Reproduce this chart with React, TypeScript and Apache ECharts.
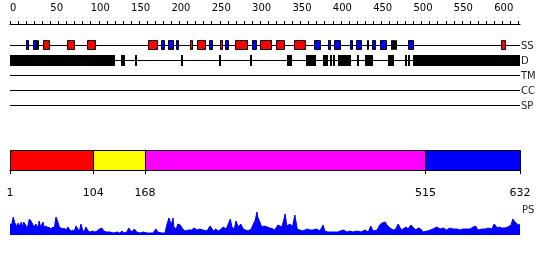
import React, { useEffect, useRef } from 'react';
import * as echarts from 'echarts';

const seqLength = 632;
const rulerLabelStep = 50;
const trackNames = ['SS', 'D', 'TM', 'CC', 'SP'];
const ssHelix = [[33, 36], [41, 50], [71, 80], [95, 107], [171, 184], [223, 227], [232, 243], [260, 264], [279, 295], [310, 325], [330, 341], [352, 367], [475, 477], [609, 615]];
const ssStrand = [[20, 23], [29, 33], [187, 192], [196, 203], [206, 210], [247, 252], [267, 272], [300, 306], [377, 386], [394, 398], [402, 410], [421, 425], [429, 436], [442, 445], [448, 453], [458, 467], [472, 475], [477, 479], [493, 501]];
const disorder = [[0, 130], [138, 143], [155, 157], [212, 214], [259, 261], [297, 299], [343, 349], [367, 379], [388, 394], [397, 399], [400, 402], [406, 422], [430, 433], [440, 450], [468, 476], [489, 491], [493, 495], [499, 632]];
const domainStarts = [1, 104, 168, 515];
const domainEnds = [104, 168, 515, 632];
const domainTicks = [1, 104, 168, 515, 632];
const psPos = [0, 2, 4, 6, 9, 10, 12, 14, 16, 17, 20, 21, 24, 26, 28, 30, 32, 35, 36, 38, 41, 42, 45, 47, 48, 51, 53, 55, 57, 59, 61, 63, 66, 67, 69, 72, 73, 76, 78, 79, 82, 84, 86, 88, 90, 92, 94, 97, 99, 103, 105, 108, 111, 114, 116, 120, 124, 128, 133, 136, 139, 140, 145, 147, 151, 154, 157, 161, 165, 170, 173, 177, 181, 183, 188, 192, 195, 197, 200, 202, 203, 206, 208, 211, 214, 217, 221, 225, 228, 232, 235, 239, 244, 248, 252, 255, 258, 262, 264, 268, 270, 273, 275, 278, 280, 283, 286, 289, 292, 295, 299, 301, 304, 306, 307, 310, 312, 315, 319, 322, 326, 328, 332, 337, 341, 343, 347, 350, 353, 356, 359, 363, 368, 372, 375, 380, 384, 388, 390, 394, 400, 406, 413, 418, 421, 425, 430, 435, 440, 444, 447, 450, 455, 458, 461, 465, 467, 471, 475, 478, 481, 485, 487, 491, 493, 497, 499, 503, 506, 509, 512, 517, 521, 524, 529, 533, 537, 541, 545, 549, 554, 558, 561, 566, 570, 574, 577, 580, 585, 589, 592, 597, 600, 604, 606, 610, 613, 617, 621, 623, 626, 630, 632];
const psVal = [11, 10, 18, 12, 8, 12, 9, 13, 8, 13, 9, 5, 16, 14, 11, 8, 11, 7, 14, 8, 13, 8, 9, 7, 8, 6, 8, 7, 18, 14, 8, 7, 6, 7, 5, 8, 6, 4, 5, 3, 9, 6, 4, 11, 5, 3, 8, 4, 3, 4, 3, 4, 6, 7, 4, 3, 3, 2, 3, 2, 4, 2, 3, 7, 3, 6, 3, 2, 3, 2, 2, 2, 6, 3, 2, 2, 12, 17, 10, 17, 8, 6, 11, 10, 6, 4, 5, 5, 7, 5, 6, 5, 4, 9, 4, 6, 4, 6, 8, 6, 10, 16, 8, 6, 14, 8, 11, 6, 5, 4, 6, 10, 15, 23, 18, 12, 8, 9, 8, 7, 6, 5, 10, 8, 21, 9, 11, 8, 20, 6, 5, 4, 6, 5, 5, 6, 4, 10, 4, 3, 3, 3, 5, 3, 4, 3, 4, 3, 5, 3, 9, 4, 5, 10, 12, 13, 10, 7, 5, 6, 11, 5, 6, 8, 6, 10, 8, 5, 7, 6, 3, 4, 5, 6, 8, 6, 7, 5, 7, 6, 6, 5, 6, 6, 6, 8, 9, 5, 6, 6, 7, 6, 11, 7, 8, 7, 7, 8, 10, 16, 13, 10, 11];

const FONT = 'DejaVu Sans';
const HELIX = '#ff0000';
const STRAND = '#0000ff';
const DOMAIN_COLORS = ['#ff0000', '#ffff00', '#ff00ff', '#0000ff'];

function boxRenderer(fillFor: (i: number) => string, up: number, h: number, stroked: boolean) {
  return (params: any, api: any) => {
    const s = api.value(0);
    const e = api.value(1);
    const row = api.value(2);
    const p0 = api.coord([s, row]);
    const p1 = api.coord([e, row]);
    const x0 = Math.round(p0[0]);
    let x1 = Math.round(p1[0]);
    if (x1 - x0 < 2) x1 = x0 + 2;
    const cy = p0[1];
    if (stroked) {
      return {
        type: 'rect',
        shape: { x: x0 + 0.5, y: cy - up, width: x1 - x0 - 1, height: h },
        style: { fill: fillFor(params.dataIndex), stroke: '#000', lineWidth: 1 },
      };
    }
    return {
      type: 'rect',
      shape: { x: x0, y: cy - up, width: x1 - x0, height: h },
      style: { fill: fillFor(params.dataIndex), stroke: null },
    };
  };
}

export default function App() {
  const ref = useRef<HTMLDivElement>(null);
  useEffect(() => {
    if (!ref.current) return;
    const chart = echarts.init(ref.current, null, { renderer: 'svg' });
    const backbone = trackNames.map((_, i) => [0, seqLength, i]);
    const helixData = ssHelix.map(([s, e]) => [s, e, 0]);
    const strandData = ssStrand.map(([s, e]) => [s, e, 0]);
    const disorderData = disorder.map(([s, e]) => [s, e, 1]);
    const domainData = domainStarts.map((s, i) => [s, domainEnds[i]]);
    const psData = psPos.map((p, i) => [p, psVal[i]]);
    const axisColor = '#000';
    chart.setOption({
      animation: false,
      textStyle: { fontFamily: FONT },
      grid: [
        { left: 10, width: 510, top: 14, height: 10 },
        { left: 10, width: 510, top: 37.5, height: 75 },
        { left: 10, width: 510, top: 150, height: 20 },
        { left: 10, width: 510, top: 212, height: 23 },
      ],
      xAxis: [
        {
          gridIndex: 0, type: 'value', position: 'top', min: 0, max: seqLength, interval: 10,
          axisLine: { lineStyle: { color: axisColor, width: 1 } },
          axisTick: { length: 3, lineStyle: { color: axisColor } },
          axisLabel: {
            formatter: (v: number) => (v % rulerLabelStep === 0 ? String(v) : ''),
            align: 'left', margin: 2, fontSize: 10, color: '#000', fontFamily: FONT, showMaxLabel: false,
          },
          splitLine: { show: false },
        },
        { gridIndex: 1, type: 'value', min: 0, max: seqLength, show: false },
        {
          gridIndex: 2, type: 'value', min: 1, max: seqLength, offset: 10,
          axisLine: { lineStyle: { color: axisColor, width: 1 } },
          axisTick: { customValues: domainTicks, length: 4, lineStyle: { color: axisColor } },
          axisLabel: { customValues: domainTicks, margin: 7, fontSize: 11, color: '#000', fontFamily: FONT },
          splitLine: { show: false },
        },
        { gridIndex: 3, type: 'value', min: 0, max: seqLength, show: false },
      ],
      yAxis: [
        { gridIndex: 0, type: 'value', show: false },
        {
          gridIndex: 1, type: 'category', data: trackNames, inverse: true, position: 'right',
          axisLine: { show: false }, axisTick: { show: false }, splitLine: { show: false },
          axisLabel: { margin: 1, align: 'left', fontSize: 10, color: '#222', fontFamily: FONT },
        },
        { gridIndex: 2, type: 'value', min: 0, max: 1, show: false },
        { gridIndex: 3, type: 'value', min: 0, max: 23, show: false },
      ],
      series: [
        {
          type: 'custom', xAxisIndex: 1, yAxisIndex: 1, data: backbone, encode: { x: [0, 1], y: 2 },
          renderItem: (params: any, api: any) => {
            const p0 = api.coord([api.value(0), api.value(2)]);
            const p1 = api.coord([api.value(1), api.value(2)]);
            const y = Math.round(p0[1]) + 0.5;
            return { type: 'line', shape: { x1: p0[0], y1: y, x2: p1[0], y2: y }, style: { stroke: '#000', lineWidth: 1 } };
          },
        },
        {
          type: 'custom', xAxisIndex: 1, yAxisIndex: 1, data: disorderData, encode: { x: [0, 1], y: 2 },
          renderItem: boxRenderer(() => '#000', 5, 11, false),
        },
        {
          type: 'custom', xAxisIndex: 1, yAxisIndex: 1, data: helixData, encode: { x: [0, 1], y: 2 },
          renderItem: boxRenderer(() => HELIX, 4.5, 9, true),
        },
        {
          type: 'custom', xAxisIndex: 1, yAxisIndex: 1, data: strandData, encode: { x: [0, 1], y: 2 },
          renderItem: boxRenderer(() => STRAND, 4.5, 9, true),
        },
        {
          type: 'custom', xAxisIndex: 2, yAxisIndex: 2, data: domainData, encode: { x: [0, 1] },
          renderItem: (params: any, api: any) => {
            const p0 = api.coord([api.value(0), 1]);
            const p1 = api.coord([api.value(1), 0]);
            const x0 = Math.round(p0[0]);
            const x1 = Math.round(p1[0]);
            return {
              type: 'rect',
              shape: { x: x0 + 0.5, y: Math.round(p0[1]) + 0.5, width: x1 - x0, height: Math.round(p1[1]) - Math.round(p0[1]) },
              style: { fill: DOMAIN_COLORS[params.dataIndex], stroke: '#000', lineWidth: 1 },
            };
          },
        },
        {
          type: 'line', xAxisIndex: 3, yAxisIndex: 3, data: psData, showSymbol: false, symbol: 'none',
          lineStyle: { color: '#0000ff', width: 1 }, areaStyle: { color: '#0000ff', opacity: 1 },
        },
      ],
      graphic: [
        { type: 'text', left: 522, top: 204, style: { text: 'PS', fontSize: 10, fill: '#222', fontFamily: FONT } },
      ],
    });
    return () => chart.dispose();
  }, []);
  return <div ref={ref} style={{ position: 'fixed', left: 0, top: 0, width: 550, height: 260 }} />;
}
